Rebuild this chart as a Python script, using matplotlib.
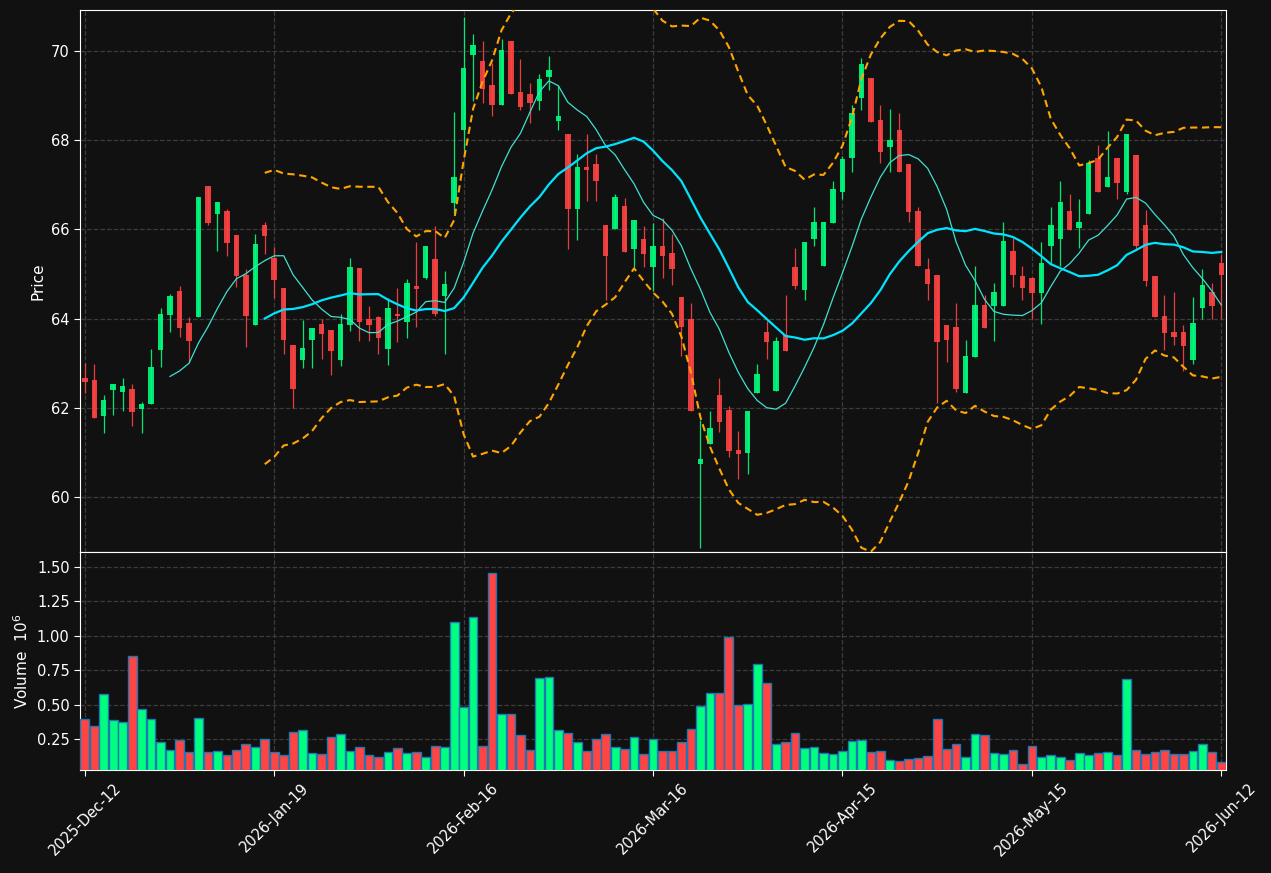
import matplotlib
matplotlib.use("Agg")
import matplotlib.pyplot as plt
import numpy as np
import pandas as pd

# ---------------- data ----------------
opens = [62.67, 62.62, 61.83, 62.40, 62.36, 62.43, 61.98, 62.08, 63.30, 64.08,
         64.63, 63.90, 64.04, 66.97, 66.35, 66.41, 65.87, 64.98, 63.86, 66.11,
         65.37, 64.68, 63.42, 63.08, 63.53, 63.88, 63.74, 63.08, 63.86, 65.13,
         64.00, 64.04, 63.33, 64.10, 63.93, 64.73, 64.91, 65.33, 64.51, 66.60,
         68.23, 69.92, 69.78, 69.25, 68.79, 70.23, 69.09, 69.04, 68.87, 69.43,
         68.43, 68.15, 66.45, 67.40, 67.46, 66.11, 66.01, 66.52, 65.56, 65.78,
         65.16, 65.62, 65.47, 64.48, 64.00, 60.75, 61.20, 62.29, 61.95, 61.06,
         61.00, 62.34, 63.70, 62.39, 63.63, 65.16, 64.64, 65.79, 65.18, 66.14,
         66.84, 67.60, 68.94, 69.40, 68.46, 67.85, 68.22, 67.46, 66.41, 65.11,
         64.99, 63.86, 63.81, 62.34, 63.15, 64.30, 64.28, 64.28, 65.52, 64.95,
         64.91, 64.58, 65.63, 65.79, 66.41, 66.03, 66.35, 67.61, 66.95, 67.61,
         66.84, 67.66, 66.11, 64.95, 64.06, 63.70, 63.70, 63.08, 64.25, 64.60,
         65.26]
highs = [63.01, 62.99, 62.29, 62.53, 62.66, 62.53, 62.13, 63.31, 64.25, 64.55,
         64.74, 64.04, 66.72, 66.97, 66.61, 66.45, 65.87, 65.11, 65.91, 66.16,
         65.61, 64.68, 63.42, 63.98, 63.79, 64.00, 63.74, 64.11, 65.37, 65.13,
         64.28, 64.07, 64.46, 64.68, 64.88, 65.71, 65.62, 66.07, 65.08, 68.63,
         70.76, 70.38, 70.23, 69.74, 70.26, 70.23, 69.83, 69.28, 69.49, 69.89,
         69.24, 68.15, 67.70, 68.14, 67.70, 66.11, 66.80, 66.70, 66.21, 66.07,
         66.15, 66.25, 65.90, 64.48, 64.36, 61.73, 61.94, 62.68, 62.04, 61.49,
         61.94, 62.99, 63.94, 63.59, 64.54, 65.59, 65.72, 66.51, 66.16, 67.09,
         67.65, 68.80, 69.85, 69.40, 68.80, 68.70, 68.62, 67.46, 66.51, 65.35,
         64.99, 63.86, 64.35, 63.53, 65.19, 64.54, 64.79, 66.16, 65.80, 65.19,
         64.94, 65.71, 66.51, 67.09, 66.80, 66.69, 67.56, 67.89, 68.21, 67.61,
         68.15, 67.66, 66.44, 64.95, 64.54, 64.59, 63.85, 64.49, 65.11, 64.79,
         65.46]
lows = [62.33, 61.78, 61.43, 61.84, 61.92, 61.59, 61.43, 62.08, 62.91, 63.71,
        63.59, 63.03, 64.04, 66.10, 65.51, 65.41, 64.72, 63.37, 63.86, 65.46,
        64.46, 63.22, 62.00, 62.89, 62.89, 63.09, 62.73, 62.93, 63.73, 63.49,
        63.49, 63.22, 62.97, 63.48, 63.57, 63.82, 64.88, 64.07, 63.22, 66.37,
        67.79, 68.88, 68.83, 68.55, 68.79, 69.03, 68.67, 68.39, 68.67, 69.13,
        68.23, 65.56, 65.76, 66.64, 66.64, 64.43, 66.01, 65.50, 65.15, 65.16,
        64.62, 64.92, 64.76, 63.16, 61.94, 58.86, 61.20, 61.45, 60.89, 60.40,
        60.51, 62.34, 63.09, 62.39, 63.28, 64.66, 64.41, 65.64, 65.18, 66.14,
        66.68, 67.29, 68.69, 68.41, 67.50, 67.29, 67.29, 66.16, 65.18, 64.41,
        62.11, 63.03, 62.35, 62.34, 63.15, 63.79, 63.49, 64.28, 64.70, 64.41,
        64.00, 63.89, 65.23, 65.19, 65.99, 65.59, 66.35, 66.84, 66.95, 66.68,
        66.80, 65.56, 64.74, 64.04, 63.30, 63.40, 62.83, 62.99, 64.00, 64.00,
        64.00]
closes = [62.57, 61.78, 62.18, 62.53, 62.49, 61.91, 62.08, 62.92, 64.10, 64.50,
          63.79, 63.51, 66.72, 66.14, 66.61, 65.70, 64.95, 64.07, 65.67, 65.86,
          64.87, 63.53, 62.43, 63.34, 63.79, 63.66, 63.28, 63.88, 65.17, 63.93,
          63.86, 63.57, 64.24, 64.07, 64.81, 64.67, 65.62, 64.10, 64.77, 67.17,
          69.63, 70.14, 69.16, 68.79, 70.03, 69.03, 68.74, 68.83, 69.38, 69.58,
          68.55, 66.45, 67.41, 67.33, 67.08, 65.40, 66.72, 65.50, 66.21, 65.45,
          65.62, 65.40, 65.12, 63.82, 61.94, 60.86, 61.55, 61.69, 61.04, 60.96,
          61.94, 62.76, 63.48, 63.50, 63.28, 64.73, 65.72, 66.16, 66.16, 66.90,
          67.57, 68.62, 69.72, 68.41, 67.73, 68.01, 67.29, 66.39, 65.18, 64.78,
          63.48, 63.53, 62.43, 63.16, 64.30, 63.79, 64.59, 65.75, 64.99, 64.69,
          64.58, 65.26, 66.10, 66.61, 65.99, 66.16, 67.50, 66.84, 67.17, 67.04,
          68.15, 65.63, 64.84, 64.04, 63.69, 63.59, 63.39, 63.90, 64.75, 64.28,
          64.98]
volumes = [0.397, 0.342, 0.574, 0.390, 0.371, 0.850, 0.465, 0.393, 0.226, 0.168,
           0.240, 0.153, 0.400, 0.153, 0.160, 0.131, 0.168, 0.211, 0.189, 0.252,
           0.153, 0.131, 0.298, 0.313, 0.146, 0.139, 0.262, 0.284, 0.160, 0.189,
           0.131, 0.117, 0.153, 0.182, 0.146, 0.153, 0.117, 0.197, 0.189, 1.098,
           0.480, 1.134, 0.197, 1.454, 0.429, 0.429, 0.277, 0.168, 0.691, 0.698,
           0.313, 0.291, 0.226, 0.160, 0.247, 0.284, 0.189, 0.175, 0.262, 0.139,
           0.247, 0.160, 0.160, 0.226, 0.320, 0.487, 0.582, 0.582, 0.989, 0.494,
           0.502, 0.792, 0.654, 0.211, 0.226, 0.291, 0.182, 0.189, 0.146, 0.139,
           0.160, 0.233, 0.240, 0.153, 0.160, 0.095, 0.087, 0.102, 0.109, 0.124,
           0.393, 0.175, 0.211, 0.117, 0.284, 0.277, 0.146, 0.139, 0.168, 0.066,
           0.197, 0.117, 0.131, 0.117, 0.095, 0.146, 0.131, 0.146, 0.153, 0.131,
           0.683, 0.168, 0.139, 0.153, 0.168, 0.139, 0.139, 0.160, 0.211, 0.153,
           0.080]
tick_positions = [0, 20, 40, 60, 80, 100, 120]
tick_labels = ["2025-Dec-12", "2026-Jan-19", "2026-Feb-16", "2026-Mar-16",
               "2026-Apr-15", "2026-May-15", "2026-Jun-12"]

# ---------------- derived indicators ----------------
df = pd.DataFrame({"Open": opens, "High": highs, "Low": lows,
                   "Close": closes, "Volume": volumes})
ma10 = df["Close"].rolling(10).mean()
ma20 = df["Close"].rolling(20).mean()
sd20 = df["Close"].rolling(20).std(ddof=0)
upper = ma20 + 2 * sd20
lower = ma20 - 2 * sd20

# ---------------- styling ----------------
BG = "#111111"
UP = "#00ff7f"
DOWN = "#ff4444"
GRID = "#3c3c3c"

plt.rcParams["font.family"] = ["DejaVu Sans"]
fig = plt.figure(figsize=(12.71, 8.73), dpi=100, facecolor=BG)
ax = fig.add_axes([0.063, 0.3677, 0.9016, 0.6208], facecolor=BG)
axv = fig.add_axes([0.063, 0.118, 0.9016, 0.2497], facecolor=BG, sharex=ax)

x = np.arange(len(df))
up = df["Close"] >= df["Open"]
colors = np.where(up, UP, DOWN)

# wicks
ax.vlines(x, df["Low"], df["High"], colors=colors, linewidth=0.9, alpha=0.9, zorder=2)
# bodies
body_bottom = np.minimum(df["Open"], df["Close"])
body_height = np.maximum(np.abs(df["Close"] - df["Open"]), 0.03)
ax.bar(x, body_height, bottom=body_bottom, width=0.58, color=colors,
       alpha=0.9, linewidth=0, zorder=3)

ax.plot(x, ma10, color="#40e0d0", linewidth=0.9, zorder=4)
ax.plot(x, ma20, color="#00e5ff", linewidth=1.6, zorder=4)
ax.plot(x, upper, color="#ffa500", linewidth=1.5, linestyle=(0, (3.5, 2.2)), zorder=4)
ax.plot(x, lower, color="#ffa500", linewidth=1.5, linestyle=(0, (3.5, 2.2)), zorder=4)

axv.bar(x, df["Volume"], width=0.92, color=colors, edgecolor="#1f77b4",
        linewidth=1.0, zorder=3)

ax.set_xlim(-0.5, 120.5)
ax.set_ylim(58.77, 70.92)
axv.set_ylim(0.025, 1.609)

ax.set_yticks([60, 62, 64, 66, 68, 70])
axv.set_yticks([0.25, 0.5, 0.75, 1.0, 1.25, 1.5])
axv.set_yticklabels(["0.25", "0.50", "0.75", "1.00", "1.25", "1.50"])
axv.set_xticks(tick_positions)
axv.set_xticklabels(tick_labels, rotation=45, ha="center")
plt.setp(ax.get_xticklabels(), visible=False)

for a in (ax, axv):
    a.grid(True, color=GRID, linestyle="--", linewidth=0.9)
    a.set_axisbelow(True)
    for s in a.spines.values():
        s.set_color("white")
    a.tick_params(colors="white", labelsize=10.5, length=4)

ax.tick_params(axis="x", length=0)
ax.set_ylabel("Price", color="white", fontsize=11)
axv.set_ylabel("Volume  $10^{6}$", color="white", fontsize=11)

fig.savefig("out.png", dpi=100, facecolor=BG)
